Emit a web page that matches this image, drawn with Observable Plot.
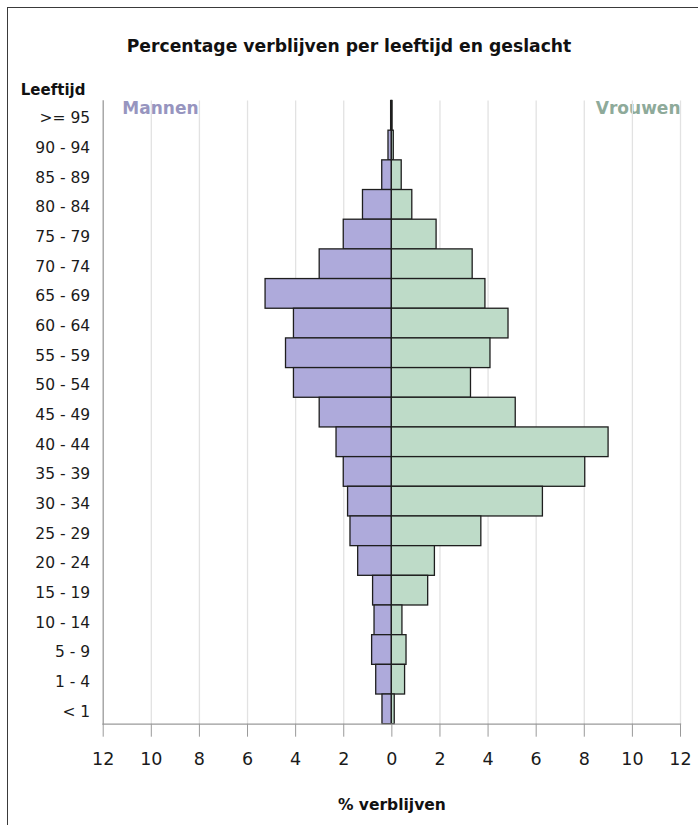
<!DOCTYPE html>
<html>
<head>
<meta charset="utf-8">
<script src="https://cdn.jsdelivr.net/npm/d3@7"></script>
<script src="https://cdn.jsdelivr.net/npm/@observablehq/plot@0.6"></script>
<style>
  html, body { margin: 0; padding: 0; background: #fff; overflow: hidden; }
  #wrap { position: relative; width: 698px; height: 825px; overflow: hidden; font-family: "DejaVu Sans", sans-serif; }
  #border { position: absolute; left: 7px; top: 7px; width: 900px; height: 1000px; border-left: 1.5px solid #3a3a3a; border-top: 1.5px solid #3a3a3a; }
  #title { position: relative; height: 60px; margin: 0; text-align: center; font-weight: bold; font-size: 17.2px; line-height: 17px; color: #111; }
  #title span { position: absolute; left: 0; right: 0; top: 38px; }
  #chart svg { display: block; }
</style>
</head>
<body>
<div id="wrap">
  <div id="border"></div>
  <div id="title"><span>Percentage verblijven per leeftijd en geslacht</span></div>
  <div id="chart"></div>
</div>
<script>
const ages = [">= 95", "90 - 94", "85 - 89", "80 - 84", "75 - 79", "70 - 74", "65 - 69", "60 - 64", "55 - 59", "50 - 54", "45 - 49", "40 - 44", "35 - 39", "30 - 34", "25 - 29", "20 - 24", "15 - 19", "10 - 14", "5 - 9", "1 - 4", "< 1"];
const men   = [0.03, 0.14, 0.40, 1.20, 2.00, 3.00, 5.25, 4.07, 4.40, 4.07, 3.00, 2.30, 2.00, 1.82, 1.72, 1.40, 0.78, 0.72, 0.82, 0.65, 0.39];
const women = [0.03, 0.08, 0.41, 0.85, 1.86, 3.36, 3.89, 4.85, 4.10, 3.29, 5.15, 9.01, 8.04, 6.28, 3.72, 1.79, 1.51, 0.44, 0.61, 0.55, 0.12];
const xTicks = [-12, -10, -8, -6, -4, -2, 0, 2, 4, 6, 8, 10, 12];
const gridTicks = [-10, -8, -6, -4, -2, 0, 2, 4, 6, 8, 10, 12];
const seriesNames = ["Mannen", "Vrouwen"];
const yLabel = "Leeftijd";
const xLabel = "% verblijven";

const rows = ages.map((a, i) => ({age: a, men: men[i], women: women[i]}));

const chart = Plot.plot({
  width: 698,
  height: 765,
  marginLeft: 102.7,
  marginRight: 18,
  marginTop: 40.5,
  marginBottom: 101.3,
  style: {fontFamily: "DejaVu Sans, sans-serif", background: "transparent", color: "#1a1a1a", overflow: "visible"},
  x: {domain: [-12, 12], axis: null},
  y: {domain: ages, padding: 0, round: false, axis: null},
  marks: [
    Plot.text([seriesNames[0]], {text: d => d, frameAnchor: "top-left", textAnchor: "start", lineAnchor: "bottom", dx: 19.1, dy: 12.8, fontSize: 17, fontWeight: "bold", fill: "#9795bf"}),
    Plot.text([seriesNames[1]], {text: d => d, frameAnchor: "top-right", textAnchor: "end", lineAnchor: "bottom", dx: 0, dy: 12.8, fontSize: 17, fontWeight: "bold", fill: "#8eaa9a"}),
    Plot.ruleX(gridTicks, {stroke: "#e2e2e2", strokeWidth: 1.3}),
    Plot.barX(rows, {y: "age", x1: 0, x2: d => -d.men, fill: "#aeaadb", stroke: "#1e1e1e", strokeWidth: 1.3}),
    Plot.barX(rows, {y: "age", x1: 0, x2: d => d.women, fill: "#bedbc8", stroke: "#1e1e1e", strokeWidth: 1.3}),
    Plot.ruleX(rows.filter(d => d.men > 0.1), {x: 0, y: "age", stroke: "#c6c6c6", strokeWidth: 1.5}),
    Plot.frame({anchor: "left", stroke: "#9a9a9a", strokeWidth: 1.3}),
    Plot.frame({anchor: "bottom", stroke: "#9a9a9a", strokeWidth: 1.3}),
    Plot.axisX({ticks: xTicks, tickFormat: d => Math.abs(d), tickSize: 13, tickPadding: 15.5, fontSize: 17.5, stroke: "#9a9a9a", fill: "#1a1a1a", label: null}),
    Plot.axisY({tickSize: 0, tickPadding: 13, dy: 2.5, fontSize: 15.5, fill: "#1a1a1a", label: null}),
    Plot.text([yLabel], {text: d => d, frameAnchor: "top-left", textAnchor: "start", lineAnchor: "bottom", dx: -82.4, dy: -6, fontSize: 15, fontWeight: "bold", fill: "#111"}),
    Plot.text([xLabel], {text: d => d, frameAnchor: "bottom", textAnchor: "middle", lineAnchor: "bottom", dy: 85.7, fontSize: 15.5, fontWeight: "bold", fill: "#111"})
  ]
});
document.getElementById("chart").appendChild(chart);
</script>
</body>
</html>
